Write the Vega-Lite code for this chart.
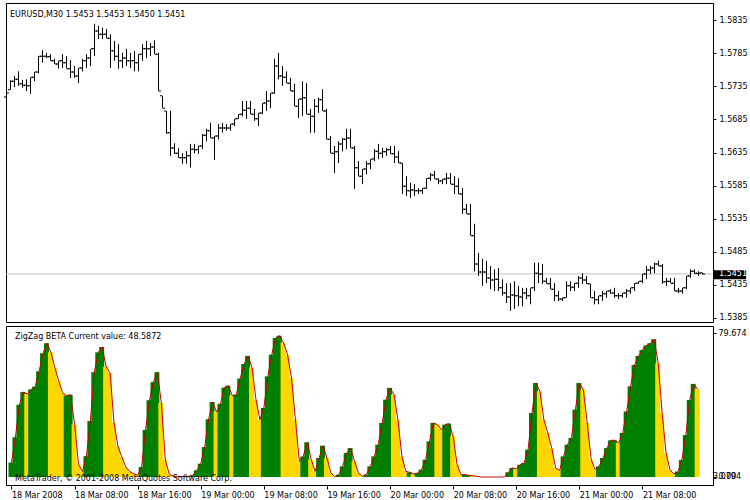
{
"$schema": "https://vega.github.io/schema/vega-lite/v6.json",
"background": "white",
"padding": {"left": 3, "top": 2, "right": 2, "bottom": 2},
"spacing": 2,
"config": {
  "view": {"stroke": "black", "strokeWidth": 1},
  "font": "DejaVu Sans",
  "axis": {"labelFont": "DejaVu Sans", "labelFontSize": 8, "labelColor": "black", "tickColor": "black", "domain": false, "grid": false, "title": null, "labelOverlap": false, "labelFlush": false, "labelBound": false}
},
"data": {"values": [
{"i":0,"o":1.5719,"h":1.5728,"l":1.5715,"c":1.5725,"v":8,"d":"up"},
{"i":1,"o":1.5730,"h":1.5745,"l":1.5730,"c":1.5743,"v":22,"d":"up"},
{"i":2,"o":1.5743,"h":1.5751,"l":1.5734,"c":1.5746,"v":40,"d":"up"},
{"i":3,"o":1.5746,"h":1.5758,"l":1.5736,"c":1.5739,"v":47,"d":"up"},
{"i":4,"o":1.5739,"h":1.5745,"l":1.5733,"c":1.5737,"v":46,"d":"dn"},
{"i":5,"o":1.5737,"h":1.5746,"l":1.5728,"c":1.5736,"v":48.5,"d":"up"},
{"i":6,"o":1.5736,"h":1.5749,"l":1.5724,"c":1.5749,"v":50,"d":"up"},
{"i":7,"o":1.5749,"h":1.5757,"l":1.5743,"c":1.5757,"v":58.5,"d":"up"},
{"i":8,"o":1.5757,"h":1.5781,"l":1.5755,"c":1.5781,"v":68.5,"d":"up"},
{"i":9,"o":1.5781,"h":1.5790,"l":1.5771,"c":1.5781,"v":74,"d":"up"},
{"i":10,"o":1.5781,"h":1.5786,"l":1.5778,"c":1.5780,"v":69,"d":"dn"},
{"i":11,"o":1.5780,"h":1.5784,"l":1.5774,"c":1.5774,"v":60.5,"d":"dn"},
{"i":12,"o":1.5774,"h":1.5777,"l":1.5769,"c":1.5769,"v":53,"d":"dn"},
{"i":13,"o":1.5769,"h":1.5774,"l":1.5762,"c":1.5774,"v":46.5,"d":"dn"},
{"i":14,"o":1.5774,"h":1.5784,"l":1.5763,"c":1.5771,"v":45,"d":"up"},
{"i":15,"o":1.5771,"h":1.5781,"l":1.5762,"c":1.5762,"v":45.5,"d":"up"},
{"i":16,"o":1.5762,"h":1.5775,"l":1.5748,"c":1.5757,"v":29,"d":"dn"},
{"i":17,"o":1.5757,"h":1.5766,"l":1.5748,"c":1.5751,"v":7,"d":"dn"},
{"i":18,"o":1.5751,"h":1.5763,"l":1.5740,"c":1.5763,"v":3,"d":"dn"},
{"i":19,"o":1.5763,"h":1.5777,"l":1.5758,"c":1.5774,"v":11.5,"d":"up"},
{"i":20,"o":1.5774,"h":1.5784,"l":1.5763,"c":1.5778,"v":31,"d":"up"},
{"i":21,"o":1.5778,"h":1.5792,"l":1.5766,"c":1.5792,"v":58,"d":"up"},
{"i":22,"o":1.5792,"h":1.5830,"l":1.5781,"c":1.5819,"v":69,"d":"up"},
{"i":23,"o":1.5819,"h":1.5827,"l":1.5807,"c":1.5814,"v":72,"d":"up"},
{"i":24,"o":1.5814,"h":1.5824,"l":1.5807,"c":1.5814,"v":61,"d":"dn"},
{"i":25,"o":1.5814,"h":1.5822,"l":1.5808,"c":1.5808,"v":57.5,"d":"dn"},
{"i":26,"o":1.5808,"h":1.5814,"l":1.5763,"c":1.5789,"v":30,"d":"dn"},
{"i":27,"o":1.5789,"h":1.5804,"l":1.5774,"c":1.5781,"v":17,"d":"dn"},
{"i":28,"o":1.5781,"h":1.5799,"l":1.5762,"c":1.5774,"v":11,"d":"dn"},
{"i":29,"o":1.5774,"h":1.5786,"l":1.5763,"c":1.5778,"v":5.5,"d":"dn"},
{"i":30,"o":1.5778,"h":1.5792,"l":1.5766,"c":1.5774,"v":3,"d":"dn"},
{"i":31,"o":1.5774,"h":1.5786,"l":1.5763,"c":1.5774,"v":1.8,"d":"dn"},
{"i":32,"o":1.5774,"h":1.5789,"l":1.5758,"c":1.5771,"v":1,"d":"dn"},
{"i":33,"o":1.5771,"h":1.5784,"l":1.5758,"c":1.5784,"v":5.5,"d":"up"},
{"i":34,"o":1.5784,"h":1.5799,"l":1.5774,"c":1.5792,"v":26,"d":"up"},
{"i":35,"o":1.5792,"h":1.5804,"l":1.5778,"c":1.5792,"v":42.5,"d":"up"},
{"i":36,"o":1.5792,"h":1.5801,"l":1.5781,"c":1.5795,"v":52.5,"d":"up"},
{"i":37,"o":1.5795,"h":1.5805,"l":1.5784,"c":1.5784,"v":58,"d":"up"},
{"i":38,"o":1.5784,"h":1.5786,"l":1.5728,"c":1.5728,"v":41,"d":"dn"},
{"i":39,"o":1.5721,"h":1.5721,"l":1.5702,"c":1.5702,"v":9.5,"d":"dn"},
{"i":40,"o":1.5698,"h":1.5698,"l":1.5663,"c":1.5665,"v":1.5,"d":"dn"},
{"i":41,"o":1.5665,"h":1.5698,"l":1.5630,"c":1.5642,"v":0.5,"d":"dn"},
{"i":42,"o":1.5642,"h":1.5649,"l":1.5633,"c":1.5634,"v":0.3,"d":"dn"},
{"i":43,"o":1.5634,"h":1.5642,"l":1.5627,"c":1.5627,"v":0.2,"d":"dn"},
{"i":44,"o":1.5627,"h":1.5634,"l":1.5618,"c":1.5627,"v":0.2,"d":"dn"},
{"i":45,"o":1.5627,"h":1.5637,"l":1.5618,"c":1.5630,"v":0.3,"d":"up"},
{"i":46,"o":1.5630,"h":1.5648,"l":1.5612,"c":1.5640,"v":1,"d":"up"},
{"i":47,"o":1.5640,"h":1.5648,"l":1.5634,"c":1.5639,"v":3.7,"d":"up"},
{"i":48,"o":1.5639,"h":1.5645,"l":1.5633,"c":1.5645,"v":7.4,"d":"up"},
{"i":49,"o":1.5645,"h":1.5663,"l":1.5640,"c":1.5661,"v":16.6,"d":"up"},
{"i":50,"o":1.5661,"h":1.5671,"l":1.5652,"c":1.5668,"v":32,"d":"up"},
{"i":51,"o":1.5668,"h":1.5680,"l":1.5657,"c":1.5657,"v":41.5,"d":"up"},
{"i":52,"o":1.5657,"h":1.5660,"l":1.5624,"c":1.5660,"v":36,"d":"dn"},
{"i":53,"o":1.5660,"h":1.5678,"l":1.5655,"c":1.5672,"v":40.5,"d":"up"},
{"i":54,"o":1.5672,"h":1.5680,"l":1.5665,"c":1.5672,"v":49.5,"d":"up"},
{"i":55,"o":1.5672,"h":1.5678,"l":1.5668,"c":1.5672,"v":50.5,"d":"up"},
{"i":56,"o":1.5672,"h":1.5678,"l":1.5668,"c":1.5678,"v":45,"d":"dn"},
{"i":57,"o":1.5678,"h":1.5686,"l":1.5675,"c":1.5686,"v":45.5,"d":"up"},
{"i":58,"o":1.5686,"h":1.5693,"l":1.5686,"c":1.5693,"v":54.5,"d":"up"},
{"i":59,"o":1.5693,"h":1.5713,"l":1.5690,"c":1.5699,"v":62.5,"d":"up"},
{"i":60,"o":1.5699,"h":1.5713,"l":1.5686,"c":1.5702,"v":67,"d":"up"},
{"i":61,"o":1.5702,"h":1.5713,"l":1.5693,"c":1.5693,"v":60.5,"d":"dn"},
{"i":62,"o":1.5693,"h":1.5701,"l":1.5683,"c":1.5686,"v":42.8,"d":"dn"},
{"i":63,"o":1.5686,"h":1.5695,"l":1.5675,"c":1.5695,"v":31.7,"d":"dn"},
{"i":64,"o":1.5695,"h":1.5710,"l":1.5693,"c":1.5710,"v":38.2,"d":"up"},
{"i":65,"o":1.5710,"h":1.5728,"l":1.5698,"c":1.5713,"v":55.7,"d":"up"},
{"i":66,"o":1.5713,"h":1.5725,"l":1.5702,"c":1.5725,"v":67.7,"d":"up"},
{"i":67,"o":1.5725,"h":1.5777,"l":1.5724,"c":1.5766,"v":76.9,"d":"up"},
{"i":68,"o":1.5766,"h":1.5786,"l":1.5746,"c":1.5751,"v":78.2,"d":"up"},
{"i":69,"o":1.5751,"h":1.5766,"l":1.5736,"c":1.5749,"v":74.2,"d":"dn"},
{"i":70,"o":1.5749,"h":1.5758,"l":1.5740,"c":1.5740,"v":67.7,"d":"dn"},
{"i":71,"o":1.5740,"h":1.5748,"l":1.5728,"c":1.5728,"v":54.8,"d":"dn"},
{"i":72,"o":1.5728,"h":1.5739,"l":1.5705,"c":1.5705,"v":31.7,"d":"dn"},
{"i":73,"o":1.5705,"h":1.5716,"l":1.5687,"c":1.5716,"v":8.7,"d":"dn"},
{"i":74,"o":1.5716,"h":1.5743,"l":1.5690,"c":1.5718,"v":11.4,"d":"up"},
{"i":75,"o":1.5718,"h":1.5740,"l":1.5693,"c":1.5693,"v":19.2,"d":"up"},
{"i":76,"o":1.5693,"h":1.5701,"l":1.5665,"c":1.5690,"v":9.6,"d":"dn"},
{"i":77,"o":1.5690,"h":1.5716,"l":1.5665,"c":1.5705,"v":3.1,"d":"dn"},
{"i":78,"o":1.5705,"h":1.5718,"l":1.5695,"c":1.5715,"v":10.5,"d":"up"},
{"i":79,"o":1.5715,"h":1.5731,"l":1.5698,"c":1.5698,"v":17.3,"d":"up"},
{"i":80,"o":1.5698,"h":1.5701,"l":1.5655,"c":1.5655,"v":10.5,"d":"dn"},
{"i":81,"o":1.5655,"h":1.5660,"l":1.5634,"c":1.5634,"v":2.2,"d":"dn"},
{"i":82,"o":1.5634,"h":1.5645,"l":1.5604,"c":1.5636,"v":0.2,"d":"dn"},
{"i":83,"o":1.5636,"h":1.5652,"l":1.5619,"c":1.5648,"v":1.3,"d":"up"},
{"i":84,"o":1.5648,"h":1.5657,"l":1.5637,"c":1.5655,"v":5.9,"d":"up"},
{"i":85,"o":1.5655,"h":1.5671,"l":1.5640,"c":1.5657,"v":13.3,"d":"up"},
{"i":86,"o":1.5657,"h":1.5671,"l":1.5642,"c":1.5642,"v":16,"d":"up"},
{"i":87,"o":1.5642,"h":1.5645,"l":1.5580,"c":1.5612,"v":8.7,"d":"dn"},
{"i":88,"o":1.5612,"h":1.5622,"l":1.5599,"c":1.5599,"v":2.2,"d":"dn"},
{"i":89,"o":1.5599,"h":1.5610,"l":1.5587,"c":1.5610,"v":0.4,"d":"dn"},
{"i":90,"o":1.5610,"h":1.5622,"l":1.5602,"c":1.5618,"v":1.3,"d":"up"},
{"i":91,"o":1.5618,"h":1.5625,"l":1.5610,"c":1.5625,"v":5.9,"d":"up"},
{"i":92,"o":1.5625,"h":1.5640,"l":1.5622,"c":1.5637,"v":11.4,"d":"up"},
{"i":93,"o":1.5637,"h":1.5648,"l":1.5625,"c":1.5634,"v":17.9,"d":"up"},
{"i":94,"o":1.5634,"h":1.5642,"l":1.5627,"c":1.5636,"v":29.9,"d":"up"},
{"i":95,"o":1.5636,"h":1.5642,"l":1.5630,"c":1.5639,"v":42.8,"d":"up"},
{"i":96,"o":1.5639,"h":1.5645,"l":1.5633,"c":1.5633,"v":49.3,"d":"up"},
{"i":97,"o":1.5633,"h":1.5645,"l":1.5619,"c":1.5628,"v":45.6,"d":"dn"},
{"i":98,"o":1.5628,"h":1.5637,"l":1.5619,"c":1.5619,"v":31.7,"d":"dn"},
{"i":99,"o":1.5619,"h":1.5619,"l":1.5572,"c":1.5584,"v":11.4,"d":"dn"},
{"i":100,"o":1.5584,"h":1.5599,"l":1.5569,"c":1.5577,"v":3.1,"d":"dn"},
{"i":101,"o":1.5577,"h":1.5589,"l":1.5566,"c":1.5578,"v":2.6,"d":"up"},
{"i":102,"o":1.5578,"h":1.5587,"l":1.5569,"c":1.5577,"v":1.7,"d":"dn"},
{"i":103,"o":1.5577,"h":1.5581,"l":1.5572,"c":1.5577,"v":2.2,"d":"up"},
{"i":104,"o":1.5577,"h":1.5581,"l":1.5572,"c":1.5581,"v":4.1,"d":"up"},
{"i":105,"o":1.5581,"h":1.5596,"l":1.5580,"c":1.5596,"v":9.6,"d":"up"},
{"i":106,"o":1.5596,"h":1.5604,"l":1.5592,"c":1.5601,"v":19.7,"d":"up"},
{"i":107,"o":1.5601,"h":1.5607,"l":1.5595,"c":1.5595,"v":29.9,"d":"up"},
{"i":108,"o":1.5595,"h":1.5596,"l":1.5587,"c":1.5592,"v":29,"d":"dn"},
{"i":109,"o":1.5592,"h":1.5595,"l":1.5587,"c":1.5595,"v":26.2,"d":"dn"},
{"i":110,"o":1.5595,"h":1.5604,"l":1.5587,"c":1.5596,"v":29,"d":"up"},
{"i":111,"o":1.5596,"h":1.5604,"l":1.5587,"c":1.5587,"v":29.5,"d":"up"},
{"i":112,"o":1.5587,"h":1.5599,"l":1.5572,"c":1.5584,"v":22.5,"d":"dn"},
{"i":113,"o":1.5584,"h":1.5596,"l":1.5572,"c":1.5572,"v":6.8,"d":"dn"},
{"i":114,"o":1.5572,"h":1.5581,"l":1.5542,"c":1.5549,"v":1.3,"d":"dn"},
{"i":115,"o":1.5549,"h":1.5557,"l":1.5542,"c":1.5542,"v":1.3,"d":"up"},
{"i":116,"o":1.5542,"h":1.5557,"l":1.5509,"c":1.5509,"v":0.9,"d":"up"},
{"i":117,"o":1.5509,"h":1.5527,"l":1.5455,"c":1.5466,"v":0.7,"d":"dn"},
{"i":118,"o":1.5466,"h":1.5483,"l":1.5448,"c":1.5454,"v":0.4,"d":"dn"},
{"i":119,"o":1.5454,"h":1.5474,"l":1.5433,"c":1.5454,"v":0,"d":"dn"},
{"i":120,"o":1.5454,"h":1.5471,"l":1.5437,"c":1.5445,"v":0,"d":"dn"},
{"i":121,"o":1.5445,"h":1.5463,"l":1.5428,"c":1.5442,"v":0,"d":"dn"},
{"i":122,"o":1.5442,"h":1.5458,"l":1.5425,"c":1.5443,"v":0,"d":"dn"},
{"i":123,"o":1.5443,"h":1.5460,"l":1.5425,"c":1.5430,"v":0,"d":"dn"},
{"i":124,"o":1.5430,"h":1.5443,"l":1.5418,"c":1.5422,"v":0,"d":"dn"},
{"i":125,"o":1.5422,"h":1.5437,"l":1.5407,"c":1.5416,"v":0,"d":"dn"},
{"i":126,"o":1.5416,"h":1.5437,"l":1.5395,"c":1.5419,"v":2.6,"d":"up"},
{"i":127,"o":1.5419,"h":1.5440,"l":1.5398,"c":1.5418,"v":5,"d":"up"},
{"i":128,"o":1.5418,"h":1.5433,"l":1.5402,"c":1.5416,"v":4.6,"d":"dn"},
{"i":129,"o":1.5416,"h":1.5430,"l":1.5402,"c":1.5422,"v":6.8,"d":"up"},
{"i":130,"o":1.5422,"h":1.5430,"l":1.5413,"c":1.5418,"v":7.7,"d":"up"},
{"i":131,"o":1.5418,"h":1.5430,"l":1.5405,"c":1.5430,"v":15.1,"d":"up"},
{"i":132,"o":1.5430,"h":1.5468,"l":1.5425,"c":1.5452,"v":35.4,"d":"up"},
{"i":133,"o":1.5452,"h":1.5468,"l":1.5437,"c":1.5451,"v":52,"d":"up"},
{"i":134,"o":1.5451,"h":1.5466,"l":1.5436,"c":1.5440,"v":47.4,"d":"dn"},
{"i":135,"o":1.5440,"h":1.5445,"l":1.5436,"c":1.5436,"v":31.7,"d":"dn"},
{"i":136,"o":1.5436,"h":1.5445,"l":1.5428,"c":1.5428,"v":24.4,"d":"dn"},
{"i":137,"o":1.5428,"h":1.5437,"l":1.5410,"c":1.5418,"v":16,"d":"dn"},
{"i":138,"o":1.5418,"h":1.5425,"l":1.5410,"c":1.5413,"v":5,"d":"dn"},
{"i":139,"o":1.5413,"h":1.5415,"l":1.5410,"c":1.5415,"v":3.7,"d":"dn"},
{"i":140,"o":1.5415,"h":1.5440,"l":1.5415,"c":1.5433,"v":11.4,"d":"up"},
{"i":141,"o":1.5433,"h":1.5440,"l":1.5425,"c":1.5431,"v":17.9,"d":"up"},
{"i":142,"o":1.5431,"h":1.5437,"l":1.5425,"c":1.5437,"v":21.6,"d":"up"},
{"i":143,"o":1.5437,"h":1.5448,"l":1.5430,"c":1.5445,"v":37.3,"d":"up"},
{"i":144,"o":1.5445,"h":1.5452,"l":1.5436,"c":1.5442,"v":52,"d":"up"},
{"i":145,"o":1.5442,"h":1.5448,"l":1.5436,"c":1.5436,"v":48.3,"d":"dn"},
{"i":146,"o":1.5436,"h":1.5436,"l":1.5415,"c":1.5415,"v":29.9,"d":"dn"},
{"i":147,"o":1.5415,"h":1.5425,"l":1.5405,"c":1.5412,"v":9.6,"d":"dn"},
{"i":148,"o":1.5412,"h":1.5418,"l":1.5405,"c":1.5418,"v":4.1,"d":"dn"},
{"i":149,"o":1.5418,"h":1.5425,"l":1.5410,"c":1.5421,"v":5.9,"d":"up"},
{"i":150,"o":1.5421,"h":1.5425,"l":1.5415,"c":1.5425,"v":10.5,"d":"up"},
{"i":151,"o":1.5425,"h":1.5428,"l":1.5421,"c":1.5422,"v":16,"d":"up"},
{"i":152,"o":1.5422,"h":1.5430,"l":1.5415,"c":1.5418,"v":20.3,"d":"up"},
{"i":153,"o":1.5418,"h":1.5422,"l":1.5413,"c":1.5418,"v":20.3,"d":"up"},
{"i":154,"o":1.5418,"h":1.5422,"l":1.5415,"c":1.5422,"v":18.8,"d":"dn"},
{"i":155,"o":1.5422,"h":1.5428,"l":1.5415,"c":1.5425,"v":24.4,"d":"up"},
{"i":156,"o":1.5425,"h":1.5430,"l":1.5421,"c":1.5430,"v":36.3,"d":"up"},
{"i":157,"o":1.5430,"h":1.5437,"l":1.5425,"c":1.5437,"v":50.2,"d":"up"},
{"i":158,"o":1.5437,"h":1.5440,"l":1.5436,"c":1.5440,"v":62,"d":"up"},
{"i":159,"o":1.5440,"h":1.5451,"l":1.5437,"c":1.5451,"v":67,"d":"up"},
{"i":160,"o":1.5451,"h":1.5463,"l":1.5443,"c":1.5457,"v":70.3,"d":"up"},
{"i":161,"o":1.5457,"h":1.5463,"l":1.5451,"c":1.5460,"v":72.7,"d":"up"},
{"i":162,"o":1.5460,"h":1.5468,"l":1.5452,"c":1.5466,"v":74,"d":"up"},
{"i":163,"o":1.5466,"h":1.5471,"l":1.5463,"c":1.5463,"v":76.2,"d":"up"},
{"i":164,"o":1.5463,"h":1.5466,"l":1.5436,"c":1.5439,"v":62.9,"d":"dn"},
{"i":165,"o":1.5439,"h":1.5445,"l":1.5433,"c":1.5440,"v":35.2,"d":"dn"},
{"i":166,"o":1.5440,"h":1.5445,"l":1.5437,"c":1.5437,"v":13.1,"d":"dn"},
{"i":167,"o":1.5437,"h":1.5445,"l":1.5425,"c":1.5425,"v":3.9,"d":"dn"},
{"i":168,"o":1.5425,"h":1.5430,"l":1.5422,"c":1.5425,"v":1.7,"d":"dn"},
{"i":169,"o":1.5425,"h":1.5430,"l":1.5421,"c":1.5430,"v":3,"d":"up"},
{"i":170,"o":1.5430,"h":1.5448,"l":1.5428,"c":1.5448,"v":9.4,"d":"up"},
{"i":171,"o":1.5448,"h":1.5458,"l":1.5445,"c":1.5455,"v":23.2,"d":"up"},
{"i":172,"o":1.5455,"h":1.5458,"l":1.5451,"c":1.5452,"v":42.6,"d":"up"},
{"i":173,"o":1.5452,"h":1.5455,"l":1.5448,"c":1.5452,"v":51.5,"d":"up"},
{"i":174,"o":1.5453,"h":1.5453,"l":1.5450,"c":1.5451,"v":48.5872,"d":"dn"}
]},
"vconcat": [
{
  "width": 707, "height": 319,
  "layer": [
    {"data": {"values": [{}]}, "mark": {"type": "rule", "color": "#C0C0C0", "strokeWidth": 1},
     "encoding": {"y": {"datum": 1.5451, "type": "quantitative", "scale": {"domain": [1.53782, 1.58615], "nice": false, "zero": false},
        "axis": {"orient": "right", "values": [1.5385,1.5435,1.5485,1.5535,1.5585,1.5635,1.5685,1.5735,1.5785,1.5835], "tickCount": 30, "format": ".4f", "tickSize": 3, "labelPadding": 3, "labelOverlap": false, "labelSeparation": 0}}}},
    {"mark": {"type": "rule", "color": "black", "strokeWidth": 1},
     "encoding": {"x": {"field": "i", "type": "quantitative", "scale": {"domain": [-0.125, 176.625], "nice": false, "zero": false}, "axis": null},
                  "y": {"field": "l", "type": "quantitative"}, "y2": {"field": "h"}}},
    {"mark": {"type": "tick", "orient": "horizontal", "size": 2, "thickness": 1, "xOffset": -1.5, "color": "black", "opacity": 1},
     "encoding": {"x": {"field": "i", "type": "quantitative"}, "y": {"field": "o", "type": "quantitative"}}},
    {"mark": {"type": "tick", "orient": "horizontal", "size": 2, "thickness": 1, "xOffset": 1.5, "color": "black", "opacity": 1},
     "encoding": {"x": {"field": "i", "type": "quantitative"}, "y": {"field": "c", "type": "quantitative"}}},
    {"data": {"values": [{}]}, "mark": {"type": "text", "align": "left", "baseline": "middle", "dx": 4, "fontSize": 8, "font": "DejaVu Sans", "color": "black"},
     "encoding": {"x": {"datum": -0.125, "type": "quantitative"}, "y": {"datum": 1.58433, "type": "quantitative"}, "text": {"value": "EURUSD,M30  1.5453 1.5453 1.5450 1.5451"}}},
    {"data": {"values": [{}]}, "mark": {"type": "rect", "color": "black"},
     "encoding": {"x": {"datum": 176.625, "type": "quantitative"}, "x2": {"datum": 184.9}, "y": {"datum": 1.54565, "type": "quantitative"}, "y2": {"datum": 1.54429}}},
    {"data": {"values": [{}]}, "mark": {"type": "text", "align": "left", "baseline": "middle", "dx": 6, "fontSize": 8, "font": "DejaVu Sans", "color": "white"},
     "encoding": {"x": {"datum": 176.625, "type": "quantitative"}, "y": {"datum": 1.5451, "type": "quantitative"}, "text": {"value": "1.5451"}}}
  ]
},
{
  "width": 707, "height": 159,
  "layer": [
    {"mark": {"type": "bar", "size": 5, "xOffset": -0.5},
     "encoding": {"x": {"field": "i", "type": "quantitative", "scale": {"domain": [-0.125, 176.625], "nice": false, "zero": false},
                    "axis": {"orient": "bottom", "values": [0,16,32,48,64,80,96,112,128,144,160], "tickCount": 30, "tickSize": 4, "labelPadding": 2, "labelAlign": "left", "labelBaseline": "top", "labelOverlap": false,
                             "labelExpr": "datum.value == 0 ? '18 Mar 2008' : (toString(18 + floor(datum.value / 48)) + ' Mar ' + ((datum.value % 48) / 2 < 10 ? '0' : '') + toString((datum.value % 48) / 2) + ':00')"}},
                  "y": {"field": "v", "type": "quantitative", "scale": {"domain": [-4.43, 83.56], "nice": false, "zero": false},
                    "axis": {"orient": "right", "values": [0, 79.674], "labelExpr": "datum.value == 0 ? '0.00' : '79.674'", "tickSize": 3, "labelPadding": 2, "labelOverlap": false}},
                  "color": {"field": "d", "type": "nominal", "scale": {"domain": ["up", "dn"], "range": ["#008000", "#FFD700"]}, "legend": null}}},
    {"mark": {"type": "line", "color": "#C00000", "strokeWidth": 1},
     "encoding": {"x": {"field": "i", "type": "quantitative"}, "y": {"field": "v", "type": "quantitative"}}},
    {"data": {"values": [{}]}, "mark": {"type": "text", "align": "left", "baseline": "middle", "dx": 4, "fontSize": 8, "font": "DejaVu Sans", "color": "black"},
     "encoding": {"x": {"datum": -0.125, "type": "quantitative"}, "y": {"datum": 77.6, "type": "quantitative"}, "text": {"value": "ZigZag BETA Current value: 48.5872"}}},
    {"data": {"values": [{}]}, "mark": {"type": "text", "align": "left", "baseline": "middle", "dx": 4, "fontSize": 8, "font": "DejaVu Sans", "color": "black"},
     "encoding": {"x": {"datum": -0.125, "type": "quantitative"}, "y": {"datum": -1, "type": "quantitative"}, "text": {"value": "MetaTrader, © 2001-2008 MetaQuotes Software Corp."}}},
    {"data": {"values": [{}]}, "mark": {"type": "text", "align": "left", "baseline": "middle", "dx": 5, "fontSize": 8, "font": "DejaVu Sans", "color": "black"},
     "encoding": {"x": {"datum": 176.625, "type": "quantitative"}, "y": {"datum": 0, "type": "quantitative"}, "text": {"value": "3.0794"}}}
  ]
}
]
}
